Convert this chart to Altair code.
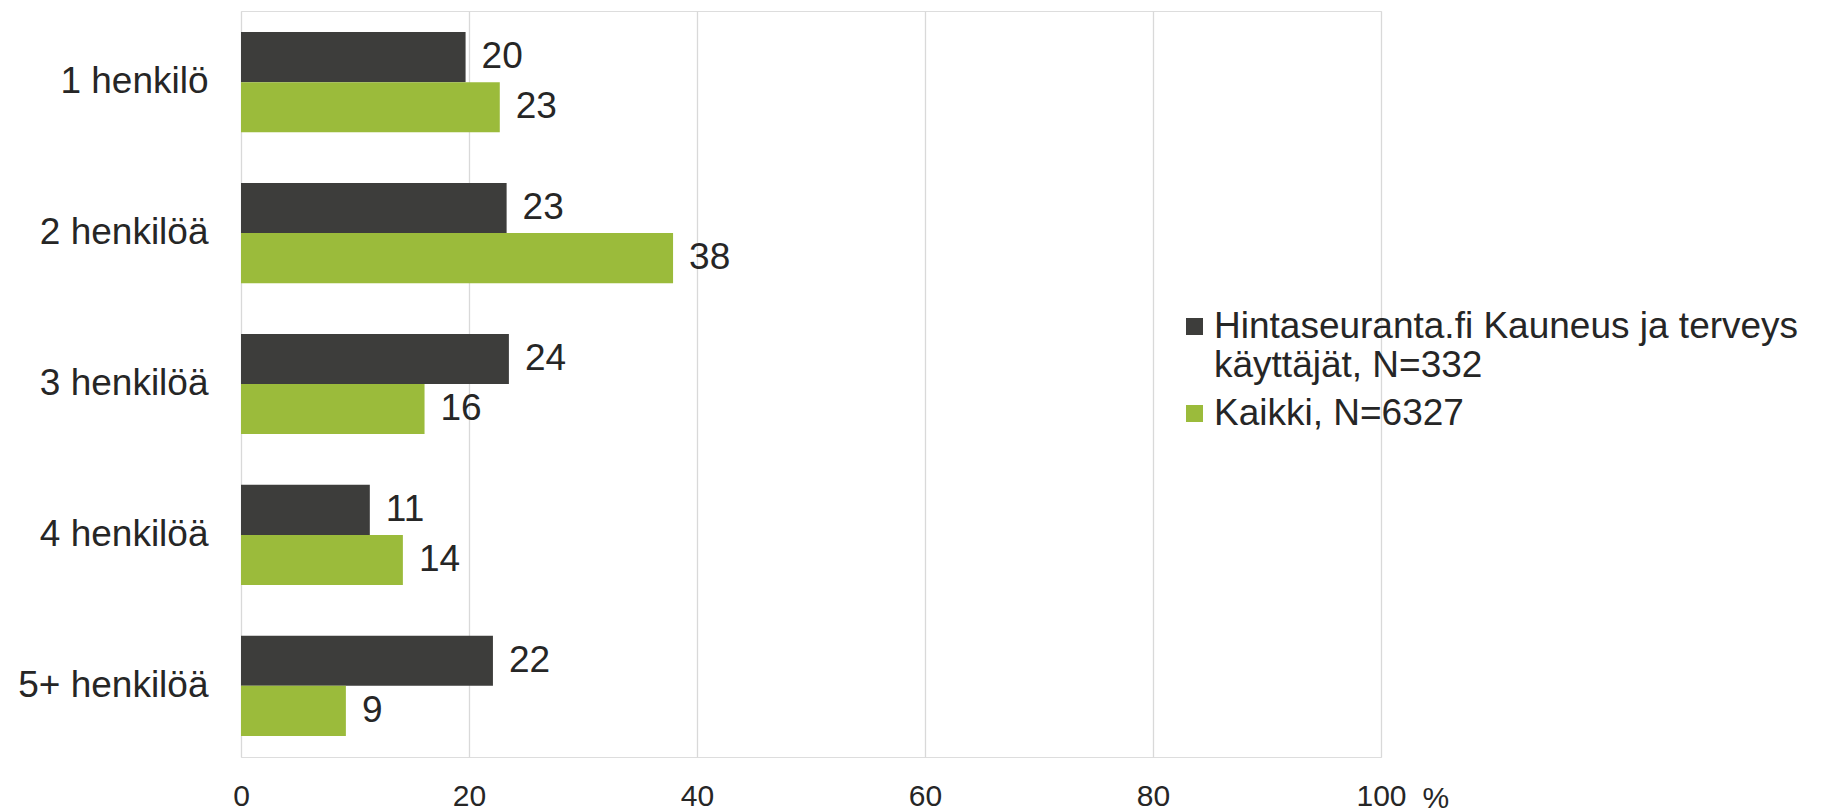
import altair as alt
import pandas as pd

categories = ["1 henkilö", "2 henkilöä", "3 henkilöä", "4 henkilöä", "5+ henkilöä"]
series = ["Hintaseuranta.fi Kauneus ja terveys käyttäjät, N=332", "Kaikki, N=6327"]
values_hinta = [19.7, 23.3, 23.5, 11.3, 22.1]
values_kaikki = [22.7, 37.9, 16.1, 14.2, 9.2]
labels_hinta = [20, 23, 24, 11, 22]
labels_kaikki = [23, 38, 16, 14, 9]
colors = ["#3d3d3b", "#9bbb3b"]
x_ticks = [0, 20, 40, 60, 80, 100]

rows = []
for i, c in enumerate(categories):
    rows.append({"category": c, "series": series[0], "value": values_hinta[i], "label": labels_hinta[i]})
    rows.append({"category": c, "series": series[1], "value": values_kaikki[i], "label": labels_kaikki[i]})
df = pd.DataFrame(rows)

FONT = "Liberation Sans"
TXT = "#262626"

label_expr = ("datum.label == '" + series[0] + "' ? "
              "['Hintaseuranta.fi Kauneus ja terveys', 'käyttäjät, N=332'] : datum.label")

base = alt.Chart(df).encode(
    y=alt.Y("category:N", sort=categories,
            scale=alt.Scale(paddingInner=0.336, paddingOuter=0.14),
            axis=alt.Axis(title=None, domain=False, ticks=False, labelFontSize=37,
                          labelPadding=33, labelColor=TXT, labelFont=FONT, labelLimit=400)),
    yOffset=alt.YOffset("series:N", sort=series,
                        scale=alt.Scale(paddingInner=0, paddingOuter=0)),
)

bars = base.mark_bar().encode(
    x=alt.X("value:Q", scale=alt.Scale(domain=[0, 100], nice=False),
            axis=alt.Axis(values=x_ticks, grid=True, gridColor="#d9d9d9", gridWidth=1.3,
                          domain=False, ticks=False, labelFontSize=30, labelPadding=24,
                          labelFlush=False,
                          labelColor=TXT, labelFont=FONT,
                          title="%", titleX=1181, titleY=50, titleAlign="left",
                          titleBaseline="alphabetic", titleFontSize=30,
                          titleFontWeight="normal", titleAngle=0, titleColor=TXT,
                          titleFont=FONT)),
    color=alt.Color("series:N", sort=series,
                    scale=alt.Scale(domain=series, range=colors),
                    legend=alt.Legend(title=None, orient="none", legendX=935, legendY=297,
                                      symbolType="square", symbolSize=290,
                                      symbolStrokeWidth=0, labelFontSize=37,
                                      labelFont=FONT, labelColor=TXT, labelOffset=1,
                                      labelLimit=800, labelExpr=label_expr,
                                      rowPadding=10)),
)

text = base.mark_text(align="left", baseline="middle", dx=16, fontSize=37,
                      color=TXT, font=FONT).encode(
    x=alt.X("value:Q"),
    text=alt.Text("label:Q", format="d"),
)

chart = (bars + text).properties(
    width=1140, height=746,
    autosize=alt.AutoSizeParams(type="none"),
    padding={"left": 233, "top": 3, "right": 441, "bottom": 58},
).configure_view(stroke=None).configure(font=FONT)

chart.save("out.html", embed_options={"renderer": "svg", "actions": False})
